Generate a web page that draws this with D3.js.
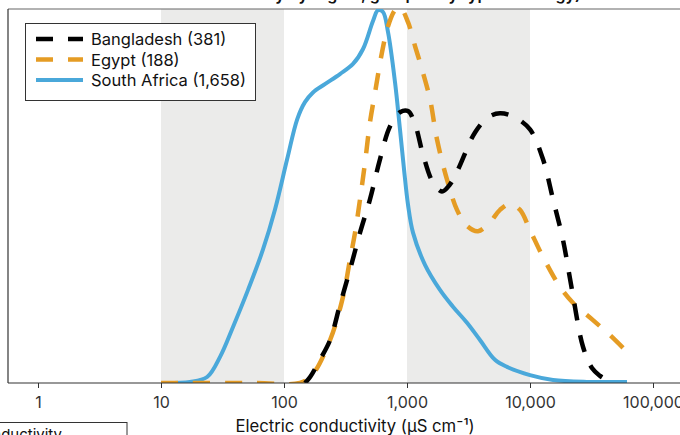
<!DOCTYPE html>
<html>
<head>
<meta charset="utf-8">
<script src="https://cdn.jsdelivr.net/npm/d3@7"></script>
<style>
  html, body { margin: 0; padding: 0; background: #fff; }
  svg { display: block; }
  text { font-family: Inter, "Noto Sans", sans-serif; }
</style>
</head>
<body>
<svg id="chart" width="680" height="435"></svg>
<script>
// Electric conductivity (µS/cm) sample points and relative density per country
const bangladeshEC = [148, 163, 196, 237, 285, 344, 415, 500, 603, 727, 877, 1019, 1162, 1349, 1626, 1926, 2237, 2600, 3573, 4560, 5704, 7550, 10000, 12760, 15390, 18530, 21950, 26970, 31900, 37100, 44700];
const bangladeshDensity = [0, 0.016, 0.062, 0.115, 0.209, 0.303, 0.402, 0.491, 0.598, 0.686, 0.724, 0.727, 0.692, 0.611, 0.536, 0.512, 0.531, 0.571, 0.670, 0.710, 0.721, 0.710, 0.678, 0.598, 0.491, 0.383, 0.249, 0.097, 0.040, 0.019, 0.003];

const egyptEC = [10, 60, 135, 169, 237, 302, 344, 378, 415, 456, 500, 550, 627, 701, 799, 877, 1019, 1162, 1324, 1538, 1754, 2115, 2550, 3075, 3776, 4730, 5704, 6870, 8290, 10000, 12760, 17540, 22400, 32500, 44700, 61500];
const egyptDensity = [0, 0, 0, 0.021, 0.115, 0.231, 0.330, 0.402, 0.491, 0.590, 0.697, 0.777, 0.885, 0.954, 0.997, 1.005, 0.965, 0.901, 0.839, 0.759, 0.651, 0.544, 0.463, 0.420, 0.406, 0.430, 0.463, 0.479, 0.463, 0.409, 0.337, 0.257, 0.214, 0.168, 0.128, 0.083];

const southAfricaEC = [10, 17.2, 23.7, 30.2, 38.5, 51, 67.5, 84.5, 106, 128, 148, 172, 215, 285, 364, 439, 529, 581, 638, 701, 799, 877, 946, 1019, 1119, 1401, 1854, 2365, 3075, 3920, 5190, 6500, 10000, 15400, 29000, 61500];
const southAfricaDensity = [0, 0.003, 0.016, 0.070, 0.150, 0.249, 0.357, 0.464, 0.598, 0.705, 0.751, 0.777, 0.799, 0.826, 0.853, 0.893, 0.968, 0.997, 0.992, 0.938, 0.804, 0.678, 0.571, 0.477, 0.402, 0.316, 0.249, 0.204, 0.161, 0.115, 0.062, 0.043, 0.021, 0.008, 0.003, 0.003];

const legendLabels = ["Bangladesh (381)", "Egypt (188)", "South Africa (1,658)"];
const tickValues = [1, 10, 100, 1000, 10000, 100000];
const shadedBands = [[10, 100], [1000, 10000]];

const series = [
  { name: "South Africa", ec: southAfricaEC, density: southAfricaDensity, color: "#4aa8da", dash: null, width: 4 },
  { name: "Egypt", ec: egyptEC, density: egyptDensity, color: "#e59c24", dash: "17,15", width: 4.5 },
  { name: "Bangladesh", ec: bangladeshEC, density: bangladeshDensity, color: "#000000", dash: "17,15", width: 4.5 }
];
const legendStyles = [series[2], series[1], series[0]];

const svg = d3.select("#chart");
const plot = { left: 8, right: 680, top: 9, bottom: 383 };

const x = d3.scaleLog().domain([1, 100000]).range([38, 653]);
const y = d3.scaleLinear().domain([0, 1]).range([plot.bottom, plot.top]);

svg.append("defs").append("clipPath").attr("id", "plotClip")
  .append("rect")
  .attr("x", plot.left).attr("y", plot.top)
  .attr("width", plot.right - plot.left).attr("height", plot.bottom - plot.top);

// Panel heading (runs off the top edge)
svg.append("text")
  .attr("x", 380).attr("y", -0.5)
  .attr("text-anchor", "middle")
  .attr("font-size", 16).attr("font-weight", 600)
  .attr("fill", "#111")
  .text("Water salinity by region, grouped by type of energy)");

// Shaded conductivity ranges
svg.append("g").selectAll("rect")
  .data(shadedBands)
  .join("rect")
  .attr("x", d => x(d[0]))
  .attr("y", plot.top)
  .attr("width", d => x(d[1]) - x(d[0]))
  .attr("height", plot.bottom - plot.top)
  .attr("fill", "#ebebea");

// Frame
svg.append("line")
  .attr("x1", plot.left).attr("x2", plot.right)
  .attr("y1", plot.top).attr("y2", plot.top)
  .attr("stroke", "#666").attr("stroke-width", 1.2);
svg.append("line")
  .attr("x1", plot.left).attr("x2", plot.left)
  .attr("y1", plot.top).attr("y2", plot.bottom)
  .attr("stroke", "#333").attr("stroke-width", 1.2);

// Density curves
const line = d3.line()
  .x(d => x(d[0]))
  .y(d => y(d[1]))
  .curve(d3.curveCatmullRom.alpha(0.5));

const curves = svg.append("g").attr("clip-path", "url(#plotClip)");
series.forEach(s => {
  curves.append("path")
    .datum(d3.zip(s.ec, s.density))
    .attr("d", line)
    .attr("fill", "none")
    .attr("stroke", s.color)
    .attr("stroke-width", s.width)
    .attr("stroke-dasharray", s.dash)
    .attr("stroke-linejoin", "round");
});

// X axis
const axis = svg.append("g")
  .attr("transform", `translate(0,${plot.bottom})`)
  .call(d3.axisBottom(x).tickValues(tickValues).tickFormat(d3.format(",")).tickSize(5).tickPadding(9));
axis.select(".domain").remove();
axis.selectAll(".tick line").attr("stroke", "#333");
axis.selectAll(".tick text")
  .attr("font-size", 16).attr("fill", "#333")
  .attr("font-family", "Inter, 'Noto Sans', sans-serif");
svg.append("line")
  .attr("x1", plot.left).attr("x2", plot.right)
  .attr("y1", plot.bottom).attr("y2", plot.bottom)
  .attr("stroke", "#333").attr("stroke-width", 1.2);

svg.append("text")
  .attr("x", 355).attr("y", 432)
  .attr("text-anchor", "middle")
  .attr("font-size", 16.7).attr("fill", "#111")
  .text("Electric conductivity (µS cm⁻¹)");

// Legend
const legend = svg.append("g");
legend.append("rect")
  .attr("x", 25.5).attr("y", 23.5)
  .attr("width", 230).attr("height", 77)
  .attr("fill", "#fff").attr("stroke", "#333").attr("stroke-width", 1);
legendStyles.forEach((s, i) => {
  const cy = 39 + i * 20.5;
  legend.append("line")
    .attr("x1", 36).attr("x2", 83)
    .attr("y1", cy).attr("y2", cy)
    .attr("stroke", s.color).attr("stroke-width", s.width)
    .attr("stroke-dasharray", s.dash);
  legend.append("text")
    .attr("x", 91).attr("y", cy + 6)
    .attr("font-size", 16.5).attr("fill", "#111")
    .text(legendLabels[i]);
});

// Neighbouring key box at the lower left
svg.append("rect")
  .attr("x", -2).attr("y", 422.5)
  .attr("width", 129).attr("height", 30)
  .attr("fill", "#fff").attr("stroke", "#333").attr("stroke-width", 1);
svg.append("text")
  .attr("x", 62).attr("y", 440)
  .attr("text-anchor", "end")
  .attr("font-size", 15).attr("fill", "#111")
  .text("Electric conductivity");
</script>
</body>
</html>
